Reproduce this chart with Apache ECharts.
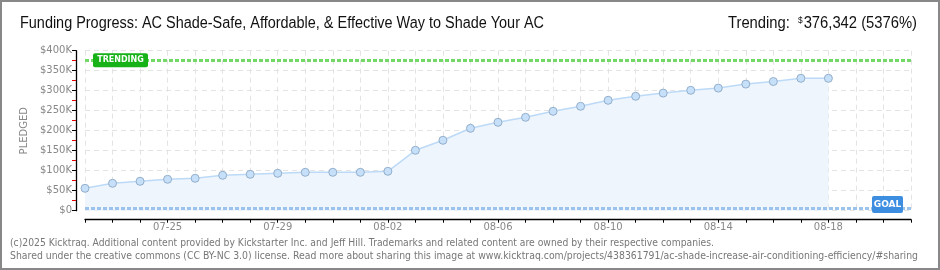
<!DOCTYPE html>
<html><head><meta charset="utf-8">
<script src="https://cdn.jsdelivr.net/npm/echarts@6/dist/echarts.min.js"></script>
<style>html,body{margin:0;padding:0;background:#fff}#c{width:940px;height:270px}</style>
</head><body><div id="c"></div>
<script>
const dates = ['07-22','07-23','07-24','07-25','07-26','07-27','07-28','07-29','07-30','07-31',
  '08-01','08-02','08-03','08-04','08-05','08-06','08-07','08-08','08-09','08-10',
  '08-11','08-12','08-13','08-14','08-15','08-16','08-17','08-18','08-19','08-20','08-21'];
const pledged = [56000,68500,73500,78500,81000,88500,91000,93500,96000,96000,
  96000,98500,151000,176000,206000,221000,233500,248500,261000,276000,
  286000,294000,301000,306500,316500,323000,331000,331000];
const trending = 376342;
const goal = 7000;
const titleText = 'Funding Progress: AC Shade-Safe, Affordable, & Effective Way to Shade Your AC';
const footer1 = '(c)2025 Kicktraq. Additional content provided by Kickstarter Inc. and Jeff Hill. Trademarks and related content are owned by their respective companies.';
const footer2 = 'Shared under the creative commons (CC BY-NC 3.0) license. Read more about sharing this image at www.kicktraq.com/projects/438361791/ac-shade-increase-air-conditioning-efficiency/#sharing';

const mctx = document.createElement('canvas').getContext('2d');
function textW(text, font){ mctx.font = font; return mctx.measureText(text).width; }

const chart = echarts.init(document.getElementById('c'), null, {renderer:'canvas'});
chart.setOption({
  animation:false,
  grid:{left:85, right:29, top:50.7, bottom:59.3},
  xAxis:{type:'category', data:dates, boundaryGap:false, offset:9,
    axisLine:{onZero:false, lineStyle:{color:'#000', width:1.3}},
    axisTick:{show:true, interval:0, length:3, lineStyle:{color:'#000'}},
    axisLabel:{interval:(i)=> (i-3)%4===0, color:'#888', fontFamily:'DejaVu Sans', fontSize:10, margin:3},
    splitLine:{show:true, interval:0, lineStyle:{color:'#e3e3e3', type:[5,4]}}
  },
  yAxis:{type:'value', min:0, max:400000, interval:50000, offset:9,
    name:'PLEDGED', nameLocation:'middle', nameRotate:90, nameGap:47,
    nameTextStyle:{color:'#888', fontFamily:'DejaVu Sans', fontSize:10},
    axisLine:{show:true, lineStyle:{color:'#000', width:1.3}},
    axisTick:{show:true, length:4, lineStyle:{color:'#000'}},
    minorTick:{show:true, splitNumber:2, length:4, lineStyle:{color:'#e00000'}},
    axisLabel:{color:'#888', fontFamily:'DejaVu Sans', fontSize:10, margin:4,
      formatter:(v)=> v===0 ? '$0' : '$'+(v/1000)+'K'},
    splitLine:{show:true, lineStyle:{color:'#e3e3e3', type:[5,4]}}
  },
  series:[{
    type:'line', data:pledged, symbol:'circle', symbolSize:8,
    itemStyle:{color:'#c6e0fa', borderColor:'#93aeca', borderWidth:1},
    lineStyle:{color:'#bcdaf7', width:1.5},
    areaStyle:{color:'#eef5fd', opacity:1},
    z:3,
    markLine:{silent:true, symbol:'none', animation:false, label:{show:false},
      data:[
        {yAxis:trending, lineStyle:{color:'#72d866', width:3, type:[4,2]}},
        {yAxis:goal, lineStyle:{color:'#9cc3ec', width:3, type:[4,2]}}
      ]}
  }]
});

const yT = chart.convertToPixel({yAxisIndex:0}, trending);
const yG = chart.convertToPixel({yAxisIndex:0}, goal);
const xR = chart.convertToPixel({xAxisIndex:0}, dates.length-1);
const tFont = '16px "Liberation Sans", sans-serif';
const tScale = 524 / textW(titleText, tFont);
const trText1 = 'Trending:  ', trText2 = '376,342 (5376%)';
const trScale = 189 / (textW(trText1, tFont) + textW(trText2, tFont) + 6);
const fFont = '10px "DejaVu Sans"';
const f1Scale = 704 / textW(footer1, fFont);
const f2Scale = 908 / textW(footer2, fFont);
chart.setOption({graphic:[
  {type:'rect', z:100, zlevel:1, shape:{x:1, y:1, width:938, height:268}, style:{fill:'none', stroke:'#888', lineWidth:2}},
  {type:'text', x:20, y:24, scaleX:tScale, style:{text:titleText, fill:'#111', font:tFont, textVerticalAlign:'middle'}},
  {type:'text', x:917, y:24, scaleX:trScale, style:{
    text:'{a|'+trText1+'}{s|$}{b|'+trText2+'}', textAlign:'right', textVerticalAlign:'middle',
    rich:{a:{fontSize:16, fontFamily:'"Liberation Sans", sans-serif', fill:'#111'},
          s:{fontSize:9, fontFamily:'"Liberation Sans", sans-serif', fill:'#111', verticalAlign:'top', padding:[0,1,6,0]},
          b:{fontSize:16, fontFamily:'"Liberation Sans", sans-serif', fill:'#111'}}}},
  {type:'rect', zlevel:1, z:50, shape:{x:93, y:yT-7, width:55, height:14, r:2}, style:{fill:'#17b217'}},
  {type:'text', zlevel:1, z:51, x:120.5, y:yT, style:{text:'TRENDING', fill:'#fff', font:'bold 8px "DejaVu Sans"', textAlign:'center', textVerticalAlign:'middle'}},
  {type:'rect', zlevel:1, z:50, shape:{x:xR-39, y:yG-12, width:31, height:17, r:2}, style:{fill:'#3d8ee0'}},
  {type:'text', zlevel:1, z:51, x:xR-23.5, y:yG-3.5, style:{text:'GOAL', fill:'#fff', font:'bold 9px "DejaVu Sans"', textAlign:'center', textVerticalAlign:'middle'}},
  {type:'text', x:10, y:243.5, scaleX:f1Scale, style:{text:footer1, fill:'#777', font:fFont, textVerticalAlign:'middle'}},
  {type:'text', x:10, y:256.5, scaleX:f2Scale, style:{text:footer2, fill:'#777', font:fFont, textVerticalAlign:'middle'}}
]});
</script></body></html>
